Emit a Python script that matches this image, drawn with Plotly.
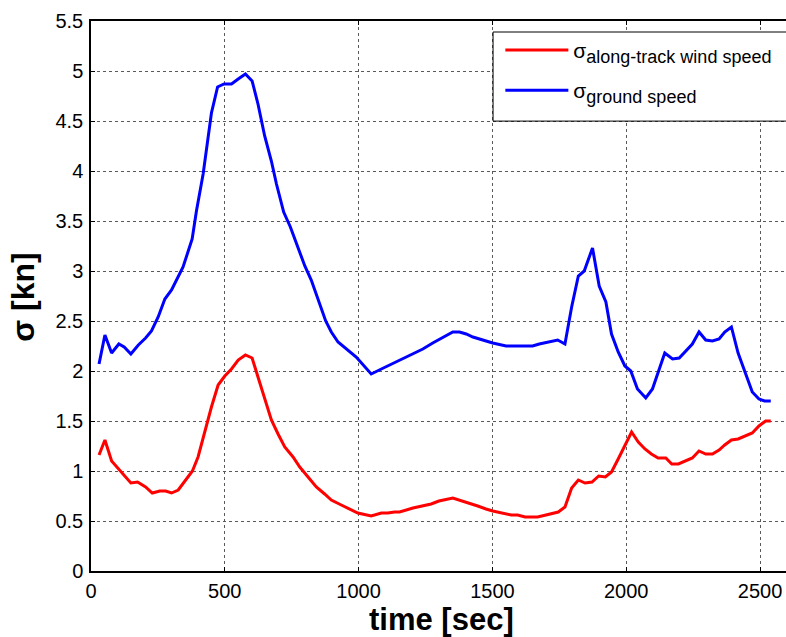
import plotly.graph_objects as go

# Standard deviation of along-track wind speed (red) and ground speed (blue) over time
wind_t = [30, 52, 77, 121, 149, 174, 204, 229, 257, 279, 301, 326, 354, 379, 400,
          425, 450, 475, 500, 525, 550, 577, 602, 624, 649, 674, 699, 724, 755, 780,
          811, 842, 873, 898, 935, 960, 997, 1047, 1085, 1109, 1134, 1153, 1203, 1271,
          1300, 1352, 1389, 1420, 1445, 1476, 1501, 1570, 1594, 1622, 1669, 1700, 1746,
          1771, 1796, 1821, 1846, 1872, 1897, 1922, 1945, 1970, 1995, 2020, 2045, 2070,
          2094, 2119, 2148, 2170, 2195, 2220, 2247, 2272, 2297, 2322, 2347, 2368, 2393,
          2418, 2447, 2471, 2496, 2521, 2540]
wind_sigma = [1.16, 1.31, 1.10, 0.97, 0.88, 0.89, 0.84, 0.78, 0.80, 0.80, 0.78, 0.81, 0.91, 1.00, 1.14,
              1.39, 1.64, 1.86, 1.95, 2.02, 2.11, 2.16, 2.13, 1.94, 1.72, 1.51, 1.37, 1.24, 1.14, 1.04,
              0.94, 0.84, 0.77, 0.71, 0.66, 0.63, 0.58, 0.55, 0.58, 0.58, 0.59, 0.59, 0.63, 0.67,
              0.70, 0.73, 0.70, 0.67, 0.65, 0.62, 0.60, 0.56, 0.56, 0.54, 0.54, 0.56, 0.59,
              0.64, 0.83, 0.91, 0.88, 0.89, 0.95, 0.94, 0.99, 1.12, 1.26, 1.39, 1.29, 1.22,
              1.17, 1.13, 1.13, 1.07, 1.07, 1.10, 1.13, 1.20, 1.17, 1.17, 1.21, 1.26, 1.31,
              1.32, 1.35, 1.38, 1.45, 1.50, 1.50]

ground_t = [30, 52, 77, 104, 124, 149, 177, 204, 226, 251, 276, 301, 344, 378, 394,
            419, 450, 473, 497, 525, 550, 577, 602, 624, 649, 674, 693, 720, 745, 774,
            799, 823, 848, 877, 898, 923, 991, 1047, 1085, 1153, 1240, 1277, 1352, 1377,
            1402, 1427, 1451, 1476, 1501, 1551, 1650, 1675, 1744, 1771, 1796, 1821, 1843,
            1874, 1899, 1924, 1945, 1970, 1995, 2017, 2042, 2073, 2098, 2144, 2173, 2198,
            2247, 2272, 2297, 2322, 2347, 2368, 2393, 2418, 2443, 2471, 2496, 2517, 2540]
ground_sigma = [2.07, 2.36, 2.18, 2.27, 2.24, 2.17, 2.26, 2.33, 2.40, 2.54, 2.72, 2.81, 3.04, 3.32, 3.60,
                3.97, 4.58, 4.84, 4.87, 4.87, 4.92, 4.97, 4.90, 4.67, 4.35, 4.10, 3.87, 3.59, 3.44, 3.22,
                3.05, 2.91, 2.73, 2.50, 2.39, 2.29, 2.14, 1.97, 2.02, 2.11, 2.22, 2.28, 2.39, 2.39,
                2.37, 2.34, 2.32, 2.30, 2.28, 2.25, 2.25, 2.27, 2.31, 2.27, 2.64, 2.95, 3.00,
                3.23, 2.85, 2.69, 2.37, 2.19, 2.05, 2.00, 1.82, 1.73, 1.82, 2.18, 2.12, 2.13,
                2.27, 2.39, 2.31, 2.30, 2.32, 2.39, 2.44, 2.18, 1.99, 1.79, 1.72, 1.70, 1.70]

x_ticks = [0, 500, 1000, 1500, 2000, 2500]
y_ticks = [0, 0.5, 1, 1.5, 2, 2.5, 3, 3.5, 4, 4.5, 5, 5.5]

FONT = "Arial, Liberation Sans, sans-serif"
SUB = "<sub><span style='font-size:18px'>{}</span></sub>"

fig = go.Figure()
fig.add_trace(go.Scatter(
    x=wind_t, y=wind_sigma, mode="lines",
    line=dict(color="#ff0000", width=3),
    name="σ" + SUB.format("along-track wind speed"),
    legendgroup="a",
))
fig.add_trace(go.Scatter(
    x=ground_t, y=ground_sigma, mode="lines",
    line=dict(color="#0000ff", width=3),
    name="σ" + SUB.format("ground speed"),
    legendgroup="b",
))

grid = dict(showgrid=True, gridcolor="#5a5a5a", gridwidth=1, griddash="dot")

fig.update_xaxes(
    range=[0, 2597], tickvals=x_ticks, ticktext=[str(v) for v in x_ticks],
    ticks="inside", ticklen=4, tickcolor="black",
    showline=True, linecolor="black", linewidth=1.5, mirror="allticks",
    zeroline=False, tickfont=dict(family=FONT, size=20, color="black"),
    ticklabelstandoff=1, **grid,
)
fig.update_yaxes(
    range=[0, 5.5], tickvals=y_ticks, ticktext=[f"{v:g}" for v in y_ticks],
    ticks="inside", ticklen=4, tickcolor="black",
    showline=True, linecolor="black", linewidth=1.5,
    zeroline=False, tickfont=dict(family=FONT, size=20, color="black"),
    ticklabelstandoff=2, **grid,
)

fig.update_layout(
    width=786, height=637,
    margin=dict(l=91, r=0, t=21, b=66),
    paper_bgcolor="white", plot_bgcolor="white",
    font=dict(family=FONT, color="black"),
    legend=dict(
        x=0.589, y=0.984, xanchor="left", yanchor="top",
        bgcolor="rgba(0,0,0,0)", borderwidth=0,
        font=dict(family=FONT, size=21, color="black"),
        itemwidth=63, tracegroupgap=10,
    ),
    # legend frame
    shapes=[dict(type="rect", xref="paper", yref="paper",
                 x0=0.5785, x1=1.01, y0=0.818, y1=0.98,
                 line=dict(color="black", width=1), fillcolor="white", layer="above")],
    annotations=[
        dict(text="<b>time [sec]</b>", xref="paper", yref="paper",
             x=0.505, y=-0.089, xanchor="center", yanchor="middle", showarrow=False,
             font=dict(family=FONT, size=31, color="black")),
        dict(text="<b>σ [kn]</b>", xref="paper", yref="paper",
             x=-0.097, y=0.498, xanchor="center", yanchor="middle", showarrow=False,
             textangle=-90, font=dict(family=FONT, size=32, color="black")),
    ],
)

fig.write_html("out.html")
